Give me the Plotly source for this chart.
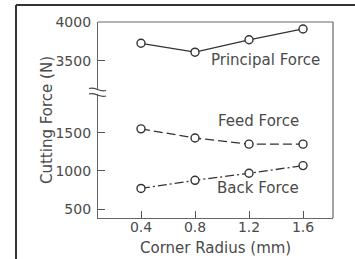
import plotly.graph_objects as go

radius = [0.4, 0.8, 1.2, 1.6]
principal = [3725, 3610, 3770, 3910]
feed = [1550, 1430, 1350, 1350]
back = [772, 878, 970, 1070]

x_ticks = [0.4, 0.8, 1.2, 1.6]
x_ticklabels = ["0.4", "0.8", "1.2", "1.6"]
upper_ticks = [3500, 4000]
lower_ticks = [500, 1000, 1500]

LINE = "#333333"
TEXT = "#4a4a4a"
FONT = "DejaVu Sans"

fig = go.Figure()

marker = dict(symbol="circle", size=8, color="white", line=dict(color=LINE, width=1.4))

fig.add_trace(go.Scatter(x=radius, y=principal, mode="lines+markers", yaxis="y2",
                         line=dict(color=LINE, width=1.3), marker=marker,
                         showlegend=False, cliponaxis=False))
fig.add_trace(go.Scatter(x=radius, y=feed, mode="lines+markers", yaxis="y",
                         line=dict(color=LINE, width=1.3, dash="9px,4px"), marker=marker,
                         showlegend=False, cliponaxis=False))
fig.add_trace(go.Scatter(x=radius, y=back, mode="lines+markers", yaxis="y",
                         line=dict(color=LINE, width=1.3, dash="9px,3px,2px,3px"), marker=marker,
                         showlegend=False, cliponaxis=False))

axis_common = dict(showgrid=False, zeroline=False, showline=True, linecolor="#666666",
                   linewidth=1.2, ticks="inside", ticklen=7, tickcolor="#555555",
                   tickwidth=1.2, tickfont=dict(family=FONT, size=14, color=TEXT),
                   automargin=False)

fig.update_layout(
    width=355, height=259, autosize=False,
    margin=dict(l=98, r=22, t=22, b=41, autoexpand=False),
    paper_bgcolor="white", plot_bgcolor="white",
    xaxis=dict(range=[0.0815, 1.822], tickvals=x_ticks, ticktext=x_ticklabels,
               anchor="y", ticklabelstandoff=-4, **axis_common),
    yaxis=dict(domain=[0, 0.6327], range=[386, 2005], tickvals=lower_ticks,
               ticklabelstandoff=3, **axis_common),
    yaxis2=dict(domain=[0.6531, 1], range=[3121.5, 4000], tickvals=upper_ticks,
                ticklabelstandoff=3, anchor="x", **axis_common),
    font=dict(family=FONT, color=TEXT),
)

def px(xp):
    return (xp - 98) / 235.0

def py(yp):
    return (218 - yp) / 196.0

shapes = []
shapes.append(dict(type="line", xref="paper", yref="paper", x0=0, x1=1, y0=1, y1=1,
                   line=dict(color="#666666", width=1.2)))
shapes.append(dict(type="line", xref="paper", yref="paper", x0=1, x1=1, y0=0, y1=1,
                   line=dict(color="#666666", width=1.2)))
# outer frame: only its top and left edges fall inside the picture
shapes.append(dict(type="line", xref="paper", yref="paper", x0=px(16), x1=px(356),
                   y0=py(5), y1=py(5), line=dict(color="#333333", width=2)))
shapes.append(dict(type="line", xref="paper", yref="paper", x0=px(16), x1=px(16),
                   y0=py(260), y1=py(5), line=dict(color="#333333", width=2)))
for yb in (89.5, 95):
    path = "M {},{} C {},{} {},{} {},{}".format(
        px(89), py(yb - 1), px(95), py(yb - 3.5), px(100), py(yb + 3.5), px(106), py(yb + 1))
    shapes.append(dict(type="path", xref="paper", yref="paper", path=path,
                       line=dict(color="#444444", width=1.2)))
fig.update_layout(shapes=shapes)

ann_font = dict(family=FONT, size=15, color=TEXT)
fig.add_annotation(x=1.32, y=3505, xref="x", yref="y2", text="Principal Force",
                   showarrow=False, font=ann_font)
fig.add_annotation(x=1.267, y=1653, xref="x", yref="y", text="Feed Force",
                   showarrow=False, font=ann_font)
fig.add_annotation(x=1.267, y=778, xref="x", yref="y", text="Back Force",
                   showarrow=False, font=ann_font)
fig.add_annotation(x=0.5, y=py(248), xref="paper", yref="paper", text="Corner Radius (mm)",
                   xanchor="center", yanchor="middle", showarrow=False, font=ann_font)
fig.add_annotation(x=px(47), y=py(120), xref="paper", yref="paper", text="Cutting Force (N)",
                   xanchor="center", yanchor="middle", textangle=-90, showarrow=False,
                   font=ann_font)

fig.write_html("out.html", config={"responsive": False, "displayModeBar": False},
               post_script="document.body.style.margin='0';document.body.style.overflow='hidden';")
